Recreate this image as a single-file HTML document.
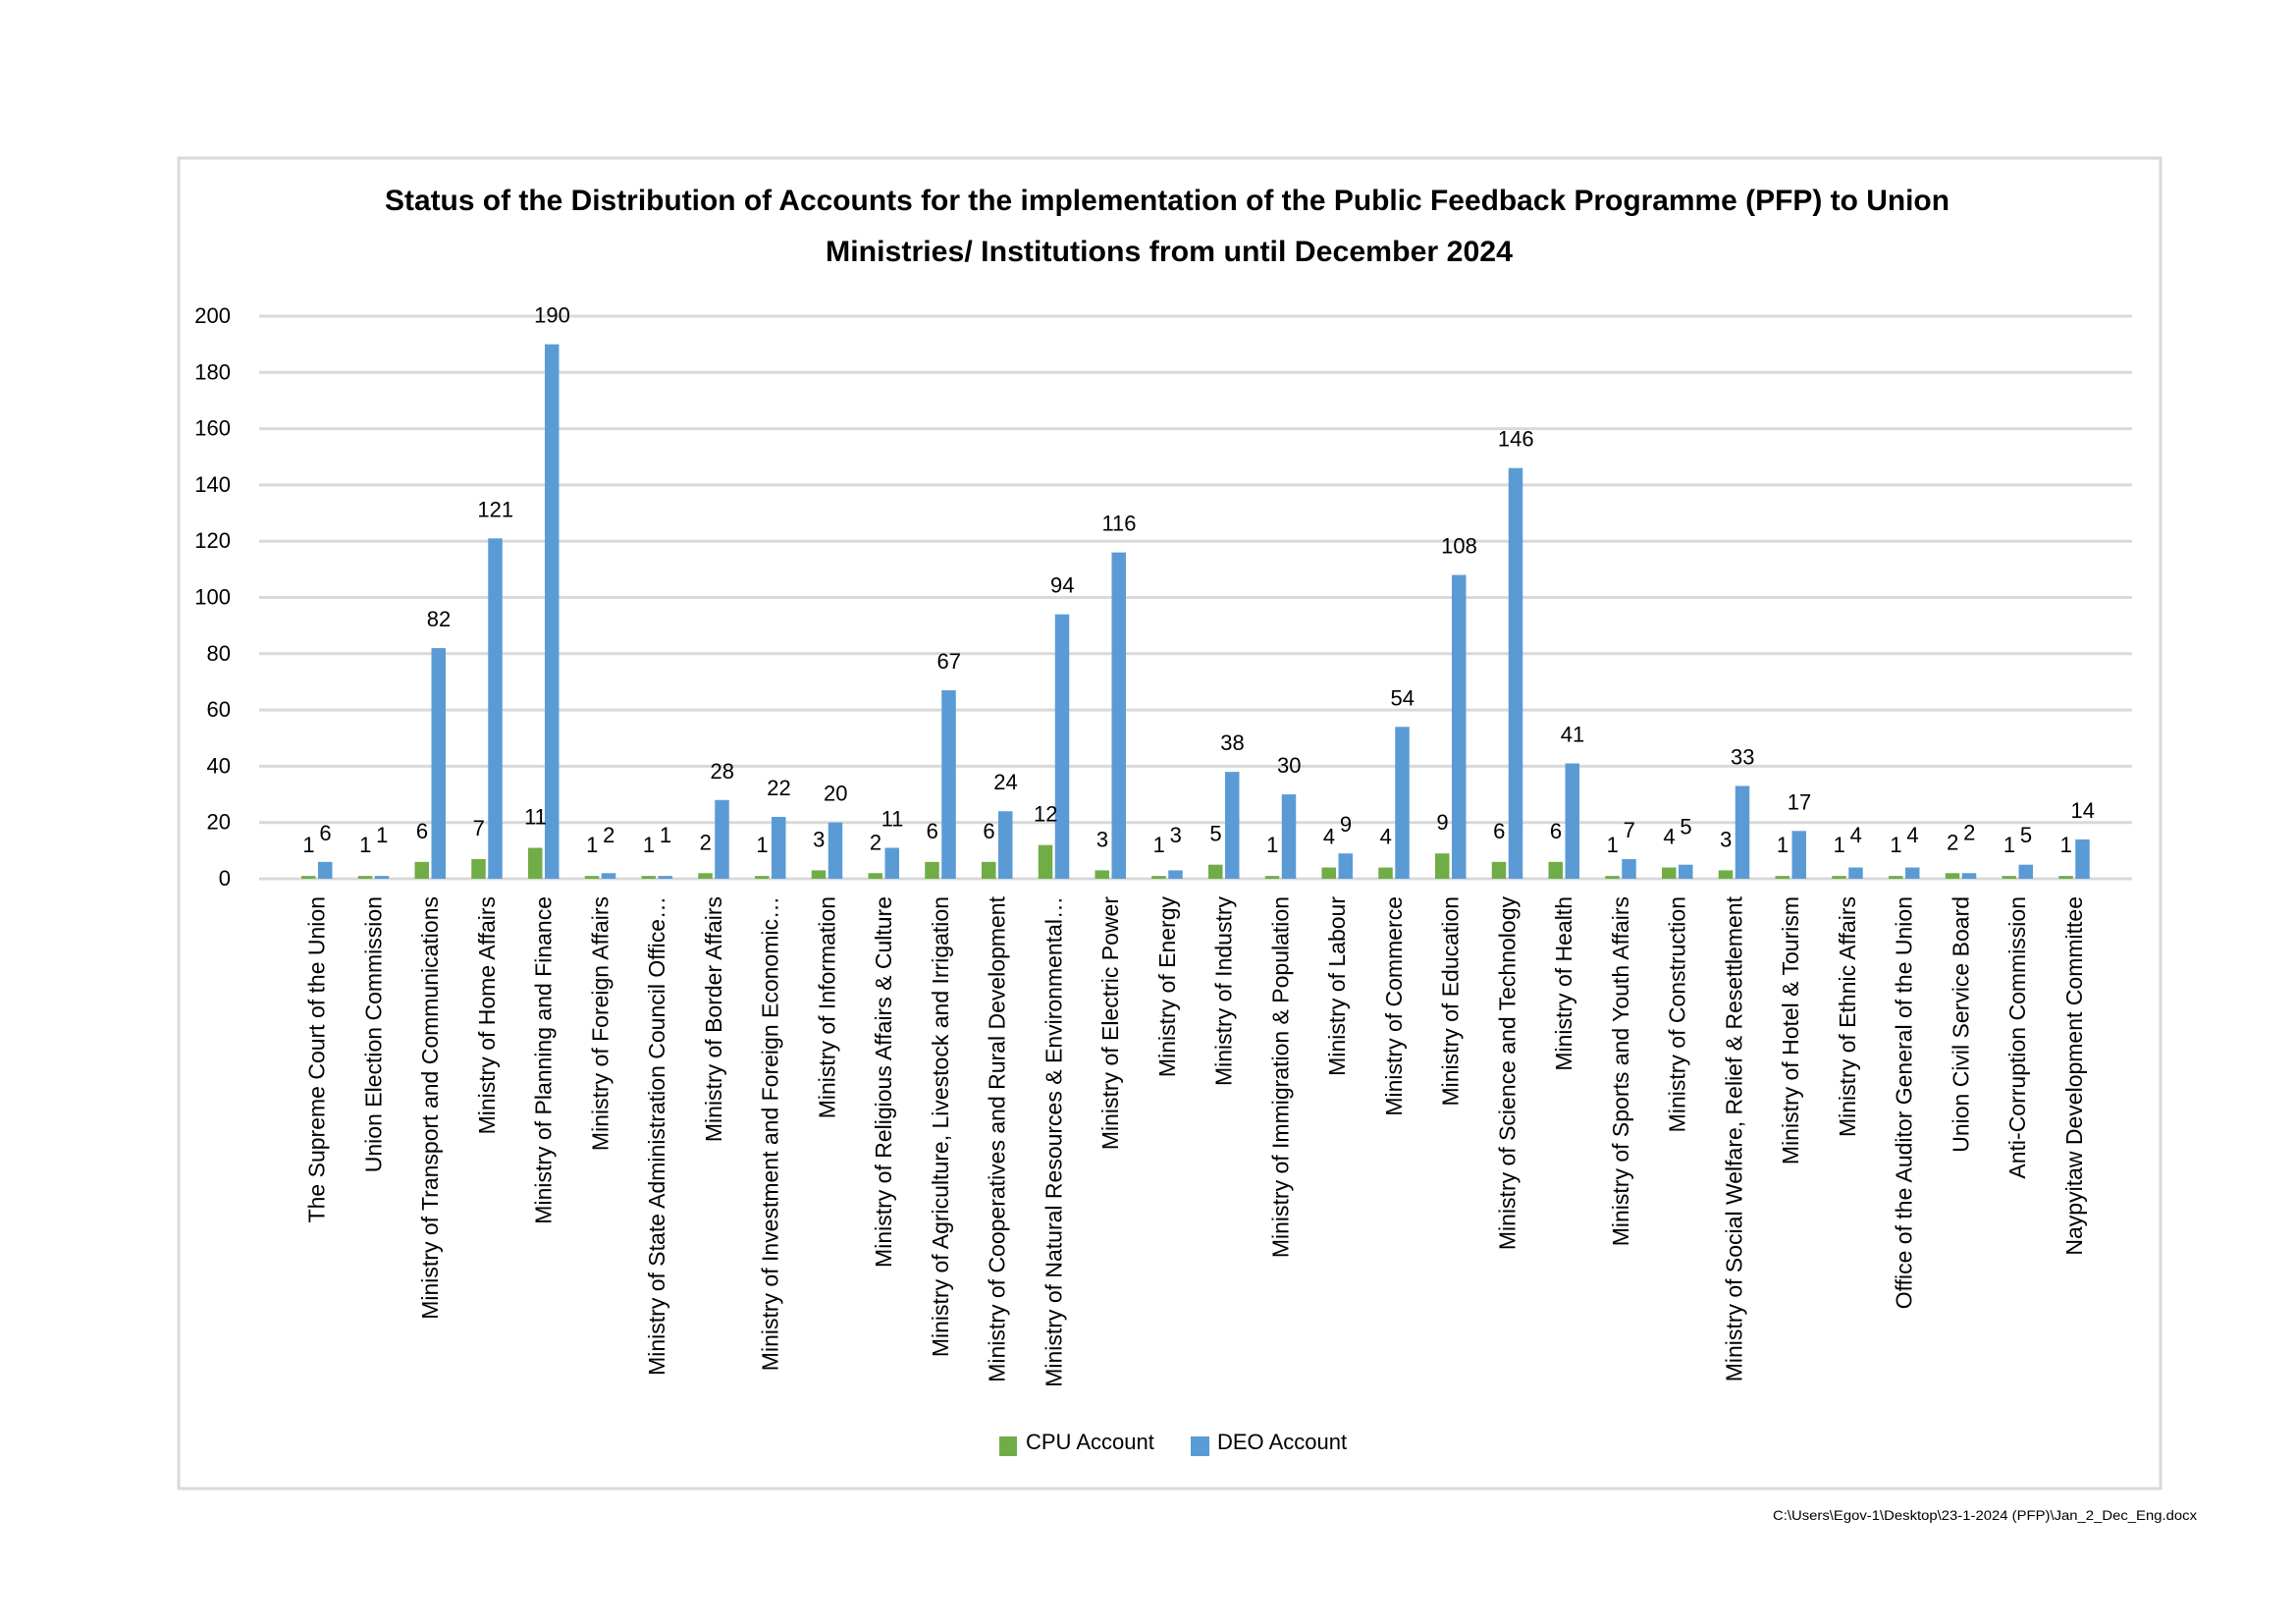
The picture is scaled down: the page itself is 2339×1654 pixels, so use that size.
<!DOCTYPE html>
<html><head><meta charset="utf-8">
<style>
html,body{margin:0;padding:0;background:#fff;}
svg{display:block;font-family:"Liberation Sans",sans-serif;}
</style></head>
<body>
<svg id="c" width="2339" height="1654" viewBox="0 0 2339 1654" xmlns="http://www.w3.org/2000/svg">
<rect x="0" y="0" width="2339" height="1654" fill="#fff"/>
<rect x="182" y="161" width="2019" height="1355" fill="#fff" stroke="#d9d9d9" stroke-width="3"/>
<text x="1189" y="214" text-anchor="middle" font-size="30" font-weight="600" textLength="1594" lengthAdjust="spacingAndGlyphs">Status of the Distribution of Accounts for the implementation of the Public Feedback Programme (PFP) to Union</text>
<text x="1191" y="266" text-anchor="middle" font-size="30" font-weight="600" textLength="700" lengthAdjust="spacingAndGlyphs">Ministries/ Institutions from until  December 2024</text>
<g id="grid"></g>
<g id="bars"></g>
<rect x="1018" y="1463" width="18" height="20" fill="#70ad47"/>
<text x="1045" y="1476" font-size="22">CPU Account</text>
<rect x="1213" y="1463" width="19" height="20" fill="#5b9bd5"/>
<text x="1240" y="1476" font-size="22">DEO Account</text>
<text x="2238" y="1548" text-anchor="end" font-size="14" textLength="432" lengthAdjust="spacingAndGlyphs">C:\Users\Egov-1\Desktop\23-1-2024 (PFP)\Jan_2_Dec_Eng.docx</text>
</svg>
<script>
var NS="http://www.w3.org/2000/svg";
function el(p,t,a,txt){var e=document.createElementNS(NS,t);for(var k in a)e.setAttribute(k,a[k]);if(txt!==undefined)e.textContent=txt;p.appendChild(e);return e;}
var g=document.getElementById("grid"),b=document.getElementById("bars");
var y0=895,k=2.865;
for(var v=0;v<=200;v+=20){var y=y0-v*k;el(g,"line",{x1:264,x2:2172,y1:y,y2:y,stroke:"#d9d9d9","stroke-width":3});
el(g,"text",{x:235,y:y+7,"text-anchor":"end","font-size":22},String(v));}
var names=["The Supreme Court of the Union","Union Election Commission","Ministry of Transport and Communications","Ministry of Home Affairs","Ministry of Planning and Finance","Ministry of Foreign Affairs","Ministry of State Administration Council Office…","Ministry of Border Affairs","Ministry of Investment and Foreign Economic…","Ministry of Information","Ministry of Religious Affairs & Culture","Ministry of Agriculture, Livestock and Irrigation","Ministry of Cooperatives and Rural Development","Ministry of Natural Resources & Environmental…","Ministry of Electric Power","Ministry of Energy","Ministry of Industry","Ministry of Immigration & Population","Ministry of Labour","Ministry of Commerce","Ministry of Education","Ministry of Science and Technology","Ministry of Health","Ministry of Sports and Youth Affairs","Ministry of Construction","Ministry of Social Welfare, Relief & Resettlement","Ministry of Hotel & Tourism","Ministry of Ethnic Affairs","Office of the Auditor General of the Union","Union Civil Service Board","Anti-Corruption Commission","Naypyitaw Development Committee"];
var cpu=[1,1,6,7,11,1,1,2,1,3,2,6,6,12,3,1,5,1,4,4,9,6,6,1,4,3,1,1,1,2,1,1];
var deo=[6,1,82,121,190,2,1,28,22,20,11,67,24,94,116,3,38,30,9,54,108,146,41,7,5,33,17,4,4,2,5,14];
for(var i=0;i<32;i++){
 var c=322.5+i*57.75;
 var hg=Math.max(cpu[i]*k,2),hb=Math.max(deo[i]*k,2);
 el(b,"rect",{x:c-15.5,y:y0-hg,width:14.5,height:hg,fill:"#70ad47"});
 el(b,"rect",{x:c+1.5,y:y0-hb,width:14.5,height:hb,fill:"#5b9bd5"});
 var gy=y0-hg-24, by=y0-hb-22;
 if(deo[i]<15){by=Math.min(by,gy-10);}
 el(b,"text",{x:c-8,y:gy,"text-anchor":"middle","font-size":22},String(cpu[i]));
 el(b,"text",{x:c+9,y:by,"text-anchor":"middle","font-size":22},String(deo[i]));
 el(b,"text",{x:0,y:0,"text-anchor":"end","font-size":23,transform:"translate("+(c+8)+",913) rotate(-90)"},names[i]);
}
</script>
</body></html>
